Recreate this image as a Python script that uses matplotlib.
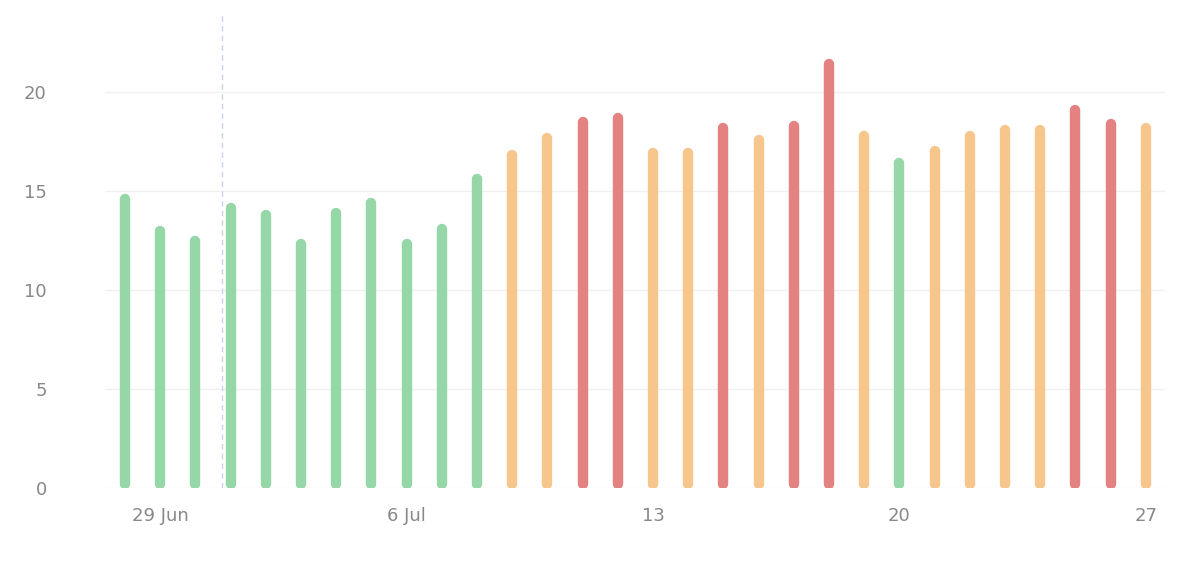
import matplotlib
matplotlib.use("Agg")
import matplotlib.pyplot as plt
import numpy as np

days = list(range(30))  # 28 Jun .. 27 Jul
values = [14.8, 13.2, 12.7, 14.35, 14.0, 12.5, 14.1, 14.6, 12.5, 13.3, 15.8, 17.0, 17.9, 18.7,
          18.9, 17.1, 17.1, 18.4, 17.8, 18.5, 21.6, 18.0, 16.6, 17.2, 18.0, 18.3, 18.3, 19.3, 18.6, 18.4]
levels = ['g']*11 + ['o', 'o', 'r', 'r', 'o', 'o', 'r', 'o', 'r', 'r', 'o', 'g', 'o', 'o', 'o', 'o', 'r', 'r', 'o']
palette = {'g': '#96d7a8', 'o': '#f6c68c', 'r': '#e48181'}
tick_pos = [1, 8, 15, 22, 29]
tick_labels = ['29 Jun', '6 Jul', '13', '20', '27']

fig = plt.figure(figsize=(12, 5.64), dpi=100)
ax = fig.add_axes([0.0875, 0.135, 0.8835, 0.842])
for d, v, l in zip(days, values, levels):
    ax.plot([d, d], [0.2, v - 0.2], color=palette[l], lw=7.5, solid_capstyle='round', zorder=3)
ax.axvline(2.74, color='#c8d4ee', lw=1, ls=(0, (4, 3)), zorder=2)
ax.set_xlim(-0.57, 29.55)
ax.set_ylim(0, 24)
ax.set_yticks([0, 5, 10, 15, 20])
ax.set_xticks(tick_pos)
ax.set_xticklabels(tick_labels)
ax.grid(axis='y', color='#f0f0f0', lw=1)
for s in ax.spines.values():
    s.set_visible(False)
ax.tick_params(length=0, labelsize=13, colors='#888888')
ax.tick_params(axis='y', pad=42)
ax.tick_params(axis='x', pad=14)
for t in ax.get_yticklabels():
    t.set_horizontalalignment('right')
fig.savefig('out.png')
